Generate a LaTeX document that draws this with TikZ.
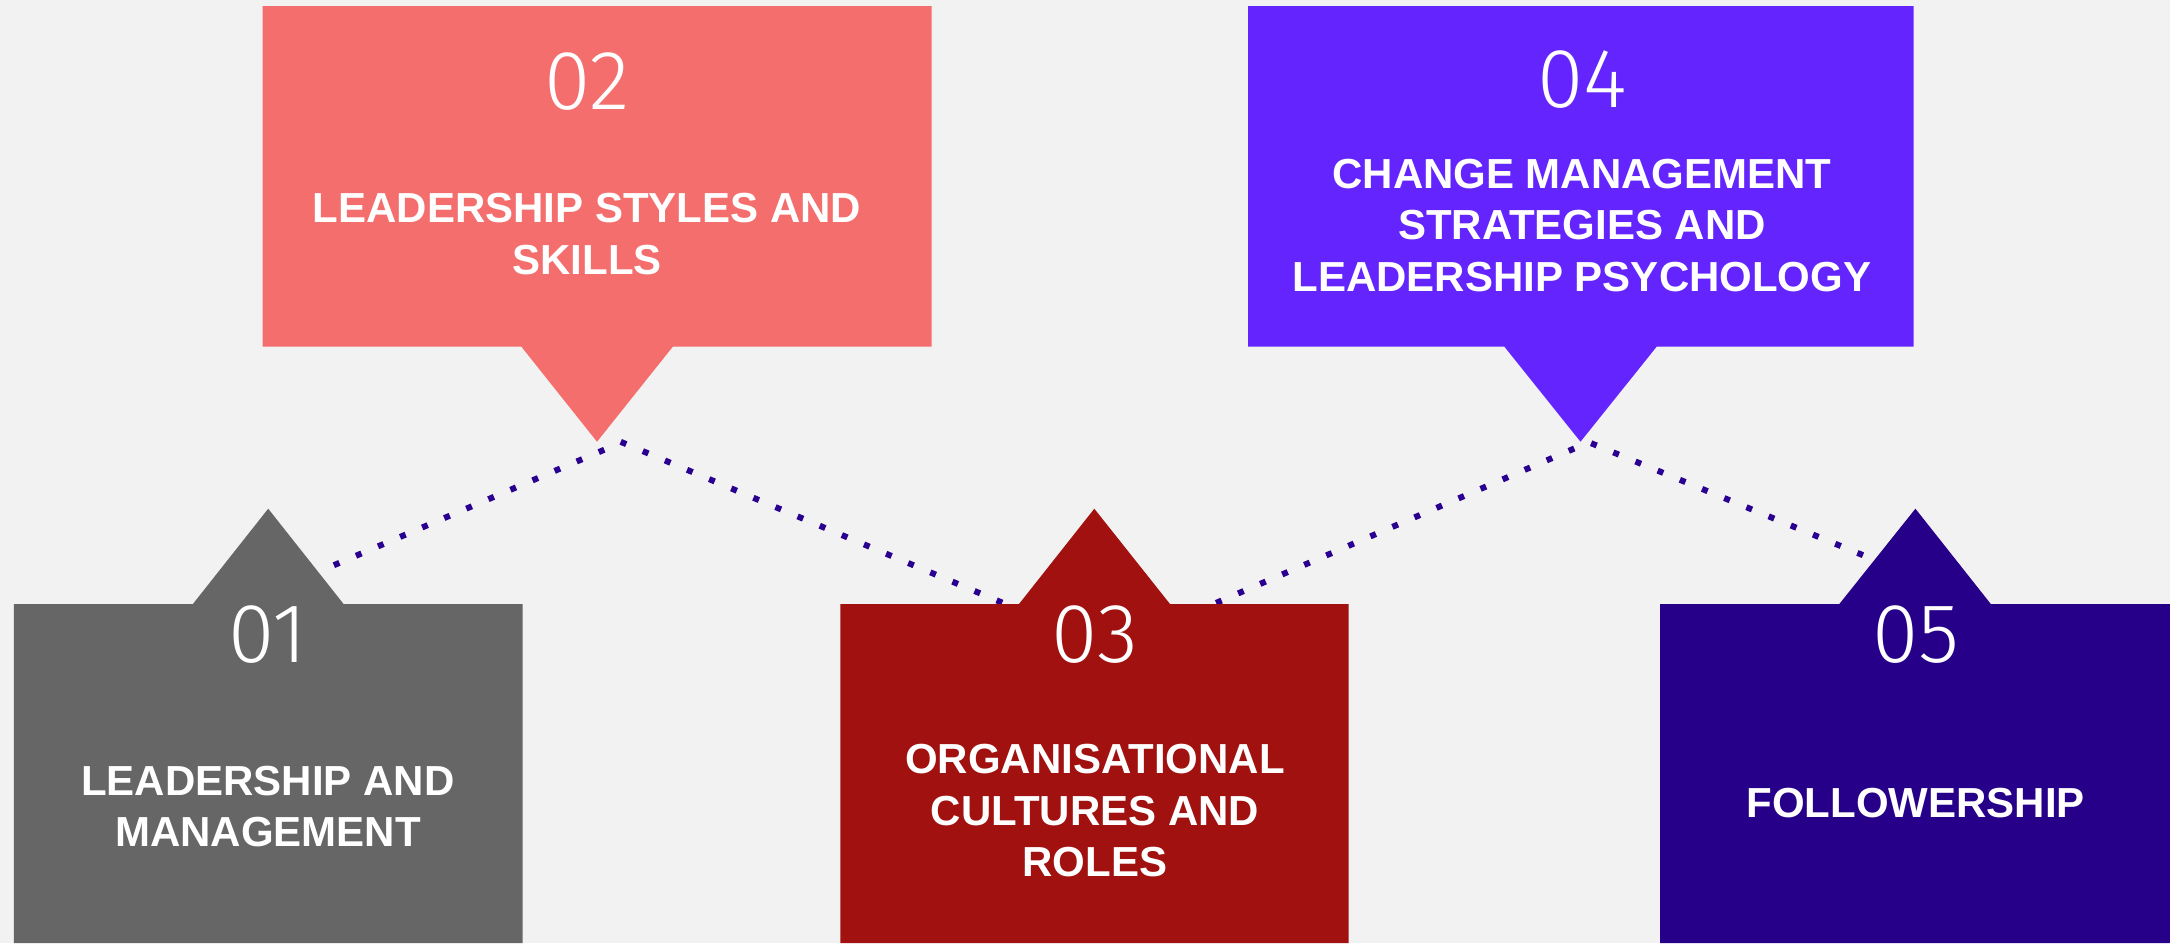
\documentclass[tikz,border=0pt]{standalone}
\usepackage{fontspec}
\setmainfont{Liberation Sans}
\newfontfamily\numfont{Fira Sans Light}
\definecolor{bgc}{HTML}{F2F2F2}
\definecolor{cone}{HTML}{666666}
\definecolor{ctwo}{HTML}{F36E6C}
\definecolor{cthree}{HTML}{A0110F}
\definecolor{cfour}{HTML}{6424FE}
\definecolor{cfive}{HTML}{27008A}
\definecolor{cdot}{HTML}{2A0090}
\begin{document}
\begin{tikzpicture}[x=1pt,y=-1pt,
  dotline/.style={draw=cdot,line width=6pt,dash pattern=on 6pt off 18pt},
  numlabel/.style={anchor=base,inner sep=0pt,text=white,font=\numfont\fontsize{84}{84}\selectfont},
  toplabel/.style={anchor=base,inner sep=0pt,text=white,align=center,font=\bfseries\fontsize{42}{51.5}\selectfont}]
\fill[bgc] (0,0) rectangle (2170,943);
\useasboundingbox (0,0) rectangle (2170,943);
% connector end points
\coordinate (d1a) at (333.9,565.2);
\coordinate (d1b) at (604.8,449.5);
\coordinate (d2a) at (620.7,441.8);
\coordinate (d2b) at (1002.8,602.9);
\coordinate (d3a) at (1216.1,602.9);
\coordinate (d3b) at (1575.2,448.1);
\coordinate (d4a) at (1591.1,443.2);
\coordinate (d4b) at (1863.5,555.4);
\draw[dotline] (d1a) -- (d1b);
\draw[dotline] (d2a) -- (d2b);
\draw[dotline] (d3a) -- (d3b);
\draw[dotline] (d4a) -- (d4b);
% box 02
\fill[ctwo] (262.5,6) -- (931.7,6) -- (931.7,346.7) -- (672.8,346.7) -- (597,441.7) -- (521.4,346.7) -- (262.5,346.7) -- cycle;
% box 04
\fill[cfour] (1248,6) -- (1913.5,6) -- (1913.5,346.7) -- (1656.6,346.7) -- (1580.5,441.7) -- (1504.4,346.7) -- (1248,346.7) -- cycle;
% box 01
\fill[cone] (13.9,604) -- (192.9,604) -- (268.2,508.7) -- (343.6,604) -- (522.5,604) -- (522.5,943) -- (13.9,943) -- cycle;
% box 03
\fill[cthree] (840.4,604) -- (1019,604) -- (1094.3,508.7) -- (1170,604) -- (1348.6,604) -- (1348.6,943) -- (840.4,943) -- cycle;
% box 05
\fill[cfive] (1660,604) -- (1839.3,604) -- (1915.4,508.7) -- (1990.8,604) -- (2170,604) -- (2170,943) -- (1660,943) -- cycle;
% numbers
\node[numlabel] (n02) at (587,109) {02};
\node[numlabel] (n04) at (1582,107) {04};
\node[numlabel] (n01) at (268,662.7) {01};
\node[numlabel] (n03) at (1095,662.7) {03};
\node[numlabel] (n05) at (1916,662.7) {05};
% labels (anchor = baseline of last line)
\node[toplabel] (t02) at (587,274) {LEADERSHIP STYLES AND\\SKILLS};
\node[toplabel] (t04) at (1582,291) {CHANGE MANAGEMENT\\STRATEGIES AND\\LEADERSHIP PSYCHOLOGY};
\node[toplabel] (t01) at (268,846.7) {LEADERSHIP AND\\MANAGEMENT};
\node[toplabel] (t03) at (1095,876.7) {ORGANISATIONAL\\CULTURES AND\\ROLES};
\node[toplabel] (t05) at (1915.5,817) {FOLLOWERSHIP};
\end{tikzpicture}
\end{document}
